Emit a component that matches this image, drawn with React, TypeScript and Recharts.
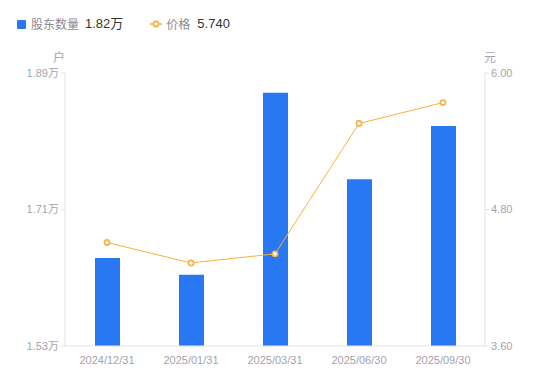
import React from 'react';
import { ComposedChart, Bar, Line, XAxis, YAxis } from 'recharts';

const dates = ['2024/12/31', '2025/01/31', '2025/03/31', '2025/06/30', '2025/09/30'];
const holders = [1.646, 1.624, 1.864, 1.75, 1.82];
const prices = [4.51, 4.33, 4.41, 5.556, 5.74];
const holderTicks = [1.53, 1.71, 1.89];
const priceTicks = [3.6, 4.8, 6.0];

const BLUE = '#2878f3';
const ORANGE = '#f9b13c';
const AXIS = '#e3e3e6';
const TICK = '#a3a3b0';
const FONT = '"Liberation Sans", Arial, "Noto Sans CJK SC", sans-serif';

const chartData = dates.map((d, i) => ({ date: d, holders: holders[i], price: prices[i] }));

const Legend: React.FC = () => (
  <div
    style={{
      position: 'absolute',
      left: 17,
      top: 14,
      display: 'flex',
      alignItems: 'center',
      fontFamily: '"Noto Sans CJK SC", sans-serif',
      fontSize: 12,
      lineHeight: '20px',
    }}
  >
    <span style={{ width: 9, height: 9, background: BLUE, borderRadius: 1, marginRight: 5 }} />
    <span style={{ color: '#8a8a96' }}>股东数量</span>
    <span style={{ color: '#333', marginLeft: 6, fontFamily: FONT, fontSize: 13 }}>1.82万</span>
    <svg width={12} height={8} style={{ marginLeft: 27, marginRight: 4 }}>
      <line x1={0} y1={4} x2={12} y2={4} stroke={ORANGE} strokeWidth={1.5} />
      <circle cx={6} cy={4} r={2.6} fill="#fff" stroke={ORANGE} strokeWidth={1.6} />
    </svg>
    <span style={{ color: '#8a8a96' }}>价格</span>
    <span style={{ color: '#333', marginLeft: 7, fontFamily: FONT, fontSize: 13 }}>5.740</span>
  </div>
);

const App: React.FC = () => {
  return (
    <div style={{ position: 'absolute', left: 0, top: 0, width: 550, height: 381, background: '#fff' }}>
      <Legend />
      <div style={{ position: 'absolute', left: 53, top: 48, fontSize: 12, color: TICK, fontFamily: '"Noto Sans CJK SC", sans-serif' }}>户</div>
      <div style={{ position: 'absolute', left: 484, top: 48, fontSize: 12, color: TICK, fontFamily: '"Noto Sans CJK SC", sans-serif' }}>元</div>
      <ComposedChart
        width={550}
        height={381}
        data={chartData}
        margin={{ top: 73, right: 8, left: 8, bottom: 5 }}
        style={{ fontFamily: FONT }}
      >
        <XAxis
          dataKey="date"
          tickLine={false}
          axisLine={{ stroke: AXIS }}
          tick={{ fill: TICK, fontSize: 11 }}
          height={30}
          tickMargin={4}
        />
        <YAxis
          yAxisId="left"
          width={57}
          domain={[1.53, 1.89]}
          ticks={holderTicks}
          tickFormatter={(v: number) => `${v.toFixed(2)}万`}
          axisLine={{ stroke: AXIS }}
          tickLine={{ stroke: AXIS }}
          tickSize={4}
          tick={{ fill: TICK, fontSize: 11 }}
        />
        <YAxis
          yAxisId="right"
          orientation="right"
          width={57}
          domain={[3.6, 6.0]}
          ticks={priceTicks}
          tickFormatter={(v: number) => v.toFixed(2)}
          axisLine={{ stroke: AXIS }}
          tickLine={{ stroke: AXIS }}
          tickSize={4}
          tick={{ fill: TICK, fontSize: 11 }}
        />
        <Bar yAxisId="left" dataKey="holders" fill={BLUE} barSize={25} isAnimationActive={false} />
        <Line
          yAxisId="right"
          dataKey="price"
          stroke={ORANGE}
          strokeWidth={1}
          dot={{ r: 2.6, fill: '#fff', stroke: ORANGE, strokeWidth: 1.6 }}
          activeDot={false}
          isAnimationActive={false}
        />
      </ComposedChart>
    </div>
  );
};

export default App;
